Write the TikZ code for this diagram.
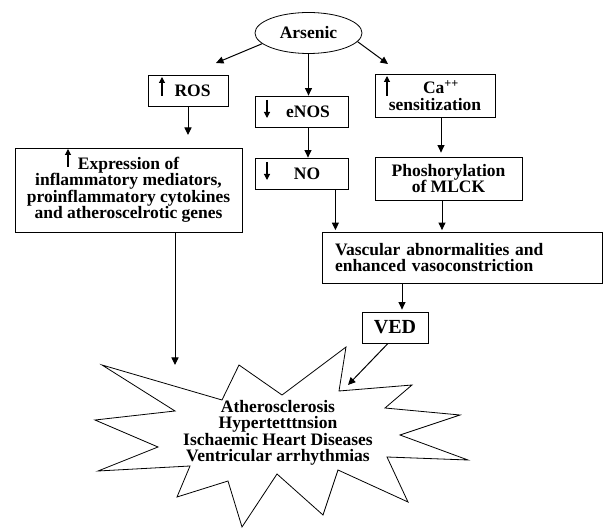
\documentclass[tikz,border=0pt]{standalone}
\usepackage{fontspec}
\setmainfont{Liberation Serif}
\usetikzlibrary{arrows.meta,shapes.geometric,calc}
\begin{document}
\begin{tikzpicture}[x=1pt,y=-1pt,
  every node/.style={font=\fontsize{17.5}{16.5}\selectfont\bfseries},
  box/.style={draw, line width=0.8pt, inner sep=0pt, align=center},
  arr/.style={line width=1pt, -{Triangle[length=7.5pt,width=7pt]}},
  glyph/.style={line width=1.1pt, -{Triangle[length=6pt,width=6pt]}},
  starline/.style={line width=0.8pt, line join=miter}]
\useasboundingbox (0,0) rectangle (603,529);

% nodes
\node[ellipse, draw, line width=0.8pt, minimum width=107pt, minimum height=41pt, inner sep=0pt] (ars) at (308.5,33) {Arsenic};
\node[box, minimum width=80pt, minimum height=31pt] (ros) at (188,90.5) {\hspace{9pt}ROS};
\node[box, minimum width=93pt, minimum height=31pt] (enos) at (301.5,111.5) {\hspace{13pt}eNOS};
\node[box, minimum width=93pt, minimum height=31pt] (no) at (301.5,173.5) {\hspace{11pt}NO};
\node[box, minimum width=120pt, minimum height=43pt] (ca) at (435,95.5) {\hspace{12pt}Ca\textsuperscript{++}\\sensitization};
\node[box, minimum width=147pt, minimum height=43pt] (phos) at (448.5,178.5) {Phoshorylation\\of MLCK};
\node[box, minimum width=227pt, minimum height=84pt] (expr) at (128.5,190) {Expression of\\inflammatory mediators,\\proinflammatory cytokines\\and atheroscelrotic genes};
\node[box, minimum width=280pt, minimum height=51pt, text width=254pt, align=left, inner xsep=13pt] (vas) at (462,257.5) {Vascular abnormalities and\\enhanced vasoconstriction};
\node[box, minimum width=66pt, minimum height=31pt, font=\fontsize{20}{20}\selectfont\bfseries] (ved) at (395,327.5) {VED};

% star
\draw[starline] (102,365) -- (222,400) -- (239,365) -- (282,395) -- (346,347) -- (339,391)
  -- (412,385) -- (385,408) -- (460,415) -- (400,435) -- (468,460) -- (387,457)
  -- (408,502) -- (338,470) -- (323,515) -- (277,474) -- (242,527) -- (228,481)
  -- (177,497) -- (190,466) -- (98,471) -- (158,447) -- (95,420) -- (175,411) -- cycle;
\node[align=center] (star) at (278,433) {Atherosclerosis\\Hypertetttnsion\\Ischaemic Heart Diseases\\Ventricular arrhythmias};

% arrow glyphs inside boxes
\draw[glyph] (162,96) -- (162,77);
\draw[glyph] (267,100) -- (267,118);
\draw[glyph] (267,162) -- (267,180);
\draw[glyph] (387,96) -- (387,76);
\draw[glyph] (68,167) -- (68,149);

% free ends
\coordinate (t1) at (216,63);
\coordinate (t2) at (388,64);
\coordinate (t3) at (348,385);
\coordinate (t4) at (175,365);
\coordinate (t5) at (188,135);

% connectors
\draw[arr] (ars.193) -- (t1);
\draw[arr] (ars.south) -- (ars.south |- enos.north);
\draw[arr] (ars.-10) -- (t2);
\draw[arr] (ros.south) -- (t5);
\draw[arr] ([xshift=6.5pt]enos.south) -- ([xshift=6.5pt]no.north);
\draw[arr, shorten >=4pt] ([xshift=6pt]ca.south) -- ([xshift=6pt]ca.south |- phos.north);
\draw[arr, shorten >=1.5pt] ([xshift=-13pt]no.south east) -- ([xshift=-13pt]no.south east |- vas.north);
\draw[arr, shorten >=1.5pt] ([xshift=-6.5pt]phos.south) -- ([xshift=-6.5pt]phos.south |- vas.north);
\draw[arr, shorten >=2pt] ([xshift=7pt]ved.north |- vas.south) -- ([xshift=7pt]ved.north);
\draw[arr] ([xshift=-7pt]ved.south) -- (t3);
\draw[arr] ([xshift=46.5pt]expr.south) -- (t4);
\end{tikzpicture}
\end{document}
